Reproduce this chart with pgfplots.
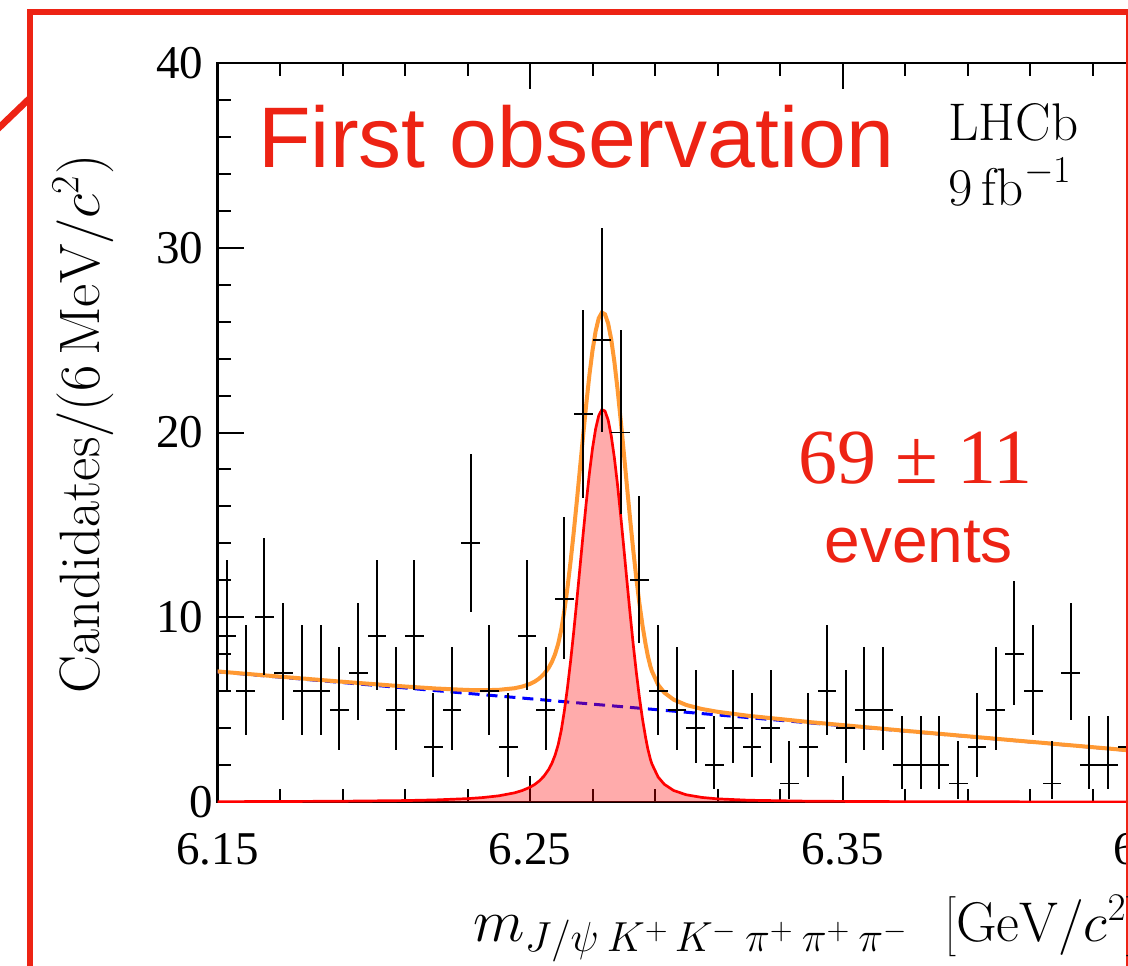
\RequirePackage{fix-cm}
\documentclass[border=0pt]{standalone}
\usepackage{fontspec}
\usepackage{pgfplots}
\usepackage{pgfplotstable}
\pgfplotsset{compat=1.18}
\newfontfamily\tnr{Liberation Serif}
\newfontfamily\arial{Liberation Sans}
\definecolor{framered}{RGB}{237,35,20}
\definecolor{fitorange}{RGB}{255,153,51}
\DeclareMathSizes{30}{30}{21}{15}

\pgfplotstableread{
x y em ep
6.153 9 2.943 4.110
6.159 6 2.380 3.584
6.165 10 3.108 4.266
6.171 7 2.581 3.770
6.177 6 2.380 3.584
6.183 6 2.380 3.584
6.189 5 2.160 3.382
6.195 7 2.581 3.770
6.201 9 2.943 4.110
6.207 5 2.160 3.382
6.213 9 2.943 4.110
6.219 3 1.633 2.918
6.225 5 2.160 3.382
6.231 14 3.699 4.830
6.237 6 2.380 3.584
6.243 3 1.633 2.918
6.249 9 2.943 4.110
6.255 5 2.160 3.382
6.261 11 3.266 4.416
6.267 21 4.545 5.655
6.273 25 4.966 6.066
6.279 20 4.434 5.546
6.285 12 3.415 4.559
6.291 6 2.380 3.584
6.297 5 2.160 3.382
6.303 4 1.914 3.163
6.309 2 1.292 2.638
6.315 4 1.914 3.163
6.321 3 1.633 2.918
6.327 4 1.914 3.163
6.333 1 0.827 2.300
6.339 3 1.633 2.918
6.345 6 2.380 3.584
6.351 4 1.914 3.163
6.357 5 2.160 3.382
6.363 5 2.160 3.382
6.369 2 1.292 2.638
6.375 2 1.292 2.638
6.381 2 1.292 2.638
6.387 1 0.827 2.300
6.393 3 1.633 2.918
6.399 5 2.160 3.382
6.405 8 2.768 3.945
6.411 6 2.380 3.584
6.417 1 0.827 2.300
6.423 7 2.581 3.770
6.429 2 1.292 2.638
6.435 2 1.292 2.638
6.441 3 1.633 2.918
}\datatable

\pgfplotstableread{
x s
6.15 0.019
6.17 0.028
6.19 0.044
6.21 0.079
6.22 0.115
6.23 0.183
6.235 0.243
6.24 0.336
6.245 0.495
6.2475 0.621
6.25 0.801
6.2515 0.950
6.253 1.146
6.2545 1.407
6.256 1.770
6.257 2.096
6.258 2.521
6.259 3.091
6.260 3.877
6.261 4.94
6.262 6.20
6.263 7.64
6.264 9.23
6.265 10.94
6.266 12.72
6.267 14.50
6.268 16.21
6.269 17.79
6.270 19.14
6.271 20.20
6.272 20.92
6.273 21.24
6.274 21.16
6.275 20.68
6.276 19.82
6.277 18.63
6.278 17.18
6.279 15.54
6.280 13.79
6.281 12.00
6.282 10.25
6.283 8.58
6.284 7.05
6.285 5.68
6.286 4.49
6.287 3.48
6.2877 2.877
6.2885 2.33
6.289 2.064
6.291 1.353
6.293 0.955
6.296 0.621
6.300 0.392
6.305 0.248
6.31 0.171
6.32 0.096
6.34 0.042
6.37 0.019
6.40 0.010
6.45 0.005
}\sigtable

\pgfplotstableread{
x t
6.15 7.069
6.17 6.786
6.19 6.510
6.21 6.253
6.22 6.143
6.23 6.065
6.235 6.052
6.24 6.072
6.245 6.158
6.2475 6.248
6.25 6.391
6.2515 6.518
6.253 6.692
6.2545 6.931
6.256 7.272
6.257 7.584
6.258 7.994
6.259 8.550
6.260 9.321
6.261 10.369
6.262 11.615
6.263 13.040
6.264 14.616
6.265 16.311
6.266 18.076
6.267 19.842
6.268 21.537
6.269 23.103
6.270 24.438
6.271 25.483
6.272 26.189
6.273 26.494
6.274 26.400
6.275 25.905
6.276 25.030
6.277 23.826
6.278 22.361
6.279 20.707
6.280 18.942
6.281 17.137
6.282 15.373
6.283 13.688
6.284 12.144
6.285 10.759
6.286 9.554
6.287 8.530
6.2877 7.915
6.2885 7.358
6.289 7.085
6.291 6.344
6.293 5.917
6.296 5.539
6.300 5.252
6.305 5.035
6.31 4.885
6.32 4.664
6.34 4.318
6.37 3.857
6.40 3.410
6.45 2.675
}\tottable

\begin{document}
\begin{tikzpicture}
\useasboundingbox (0pt,0pt) rectangle (564pt,-482.5pt);
\clip (0pt,0pt) rectangle (564pt,-482.5pt);
\begin{axis}[
  scale only axis,
  width=468.75pt, height=369.5pt,
  at={(108.75pt,-401pt)}, anchor=south west,
  xmin=6.15, xmax=6.45, ymin=0, ymax=40,
  xtick={6.15,6.25,6.35,6.45},
  xticklabels={6.15,6.25,6.35,6.45},
  ytick={0,10,20,30,40},
  yticklabels={0\kern-5pt,10,20,30,40},
  minor x tick num=4, minor y tick num=4,
  tick align=inside,
  major tick length=13pt, minor tick length=6.5pt,
  axis line style={line width=1.35pt},
  every tick/.style={black, line width=1pt},
  /pgf/number format/assume math mode=true,
  ticklabel style={font=\tnr\fontsize{23.5}{24}\selectfont, inner sep=0pt},
  yticklabel style={anchor=east, xshift=-7pt},
  xticklabel style={anchor=north, yshift=-15.5pt},
]
\addplot[blue, line width=1.5pt, dash pattern=on 5.5pt off 3.5pt] coordinates {(6.15,7.05) (6.45,2.67)};
\addplot[draw=none, fill=red, fill opacity=0.33] table[x=x,y=s] {\sigtable} \closedcycle;
\addplot[red, line width=1.35pt] table[x=x,y=s] {\sigtable};
\addplot[fitorange, line width=2pt] table[x=x,y=t] {\tottable};
\addplot[draw=none, mark=none,
  error bars/.cd, x dir=both, x fixed=0.003, y dir=both, y explicit,
  error mark=none,
  error bar style={draw=black, solid, line width=0.95pt}]
  table[x=x, y=y, y error plus=ep, y error minus=em] {\datatable};
\end{axis}
\begin{scope}[x=0.5pt,y=-0.5pt]
\draw[framered, line width=3.3pt] (30,1200) -- (30,12) -- (1129.5,12) -- (1129.5,1200);
\draw[framered, line width=3.3pt] (-20,146) -- (30,98);
\node[anchor=base west, inner sep=0pt, text=framered, font=\arial\fontsize{43}{44}\selectfont] at (258,167) {First observation};
\node[anchor=base, inner sep=0pt, text=framered, font=\tnr\fontsize{39}{40}\selectfont] at (915.5,483) {69 ± 11};
\node[anchor=base, inner sep=0pt, text=framered, font=\arial\fontsize{32}{34}\selectfont] at (918.7,562) {events};
\node[anchor=base west, inner sep=0pt, font=\fontsize{26.5}{27}\selectfont] at (948,140) {LHCb};
\node[anchor=base west, inner sep=0pt, font=\fontsize{26.5}{27}\selectfont] at (948,205) {9\,fb\raisebox{0.42em}{\fontsize{19}{20}\selectfont\kern0.5pt$-$1}};
\node[rotate=90, inner sep=0pt, font=\fontsize{28.5}{30}\selectfont] at (83,424) {Candidates$/(6\,\mathrm{MeV}/c^2)$};
\node[anchor=base west, inner sep=0pt, font=\fontsize{30}{31}\selectfont] at (473,941) {$m_{J/\psi\hspace{4pt}K^+\hspace{3pt}K^-\hspace{4pt}\pi^+\hspace{4pt}\pi^+\hspace{4pt}\pi^-}$};
\node[anchor=base west, inner sep=0pt, font=\fontsize{28}{30}\selectfont] at (944,941) {$\left[\mathrm{GeV}/c^2\right]$};
\end{scope}
\end{tikzpicture}
\end{document}
